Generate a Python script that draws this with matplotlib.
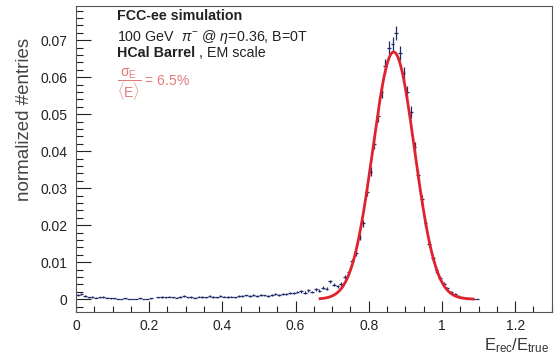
import numpy as np
from matplotlib import pyplot as plt
from matplotlib.ticker import MultipleLocator

# histogram, bins of 0.01 from 0 to 1.1
bin_centers = np.arange(0.005, 1.1, 0.01)
entries = [
    0.0012, 0.0015, 0.0008, 0.0005, 0.0006, 0.0004, 0.0005, 0.0006, 0.0004, 0.0003,
    0.0002, 0.0001, 0.0001, 0.0003, 0.0001, 0.0001, 0.0001, 0.0003, 0.0001, 0.0001,
    0.0002, np.nan, 0.0005, 0.0006, 0.0005, 0.0007, 0.0005, 0.0004, 0.0006, 0.0008,
    0.0005, 0.0006, 0.0004, 0.0007, 0.0006, 0.0005, 0.0008, 0.0006, 0.0005, 0.0009,
    0.0007, 0.0006, 0.0007, 0.0005, 0.0008, 0.0009, 0.0010, 0.0008, 0.0011, 0.0009,
    0.0012, 0.0010, 0.0008, 0.0011, 0.0013, 0.0012, 0.0015, 0.0014, 0.0017, 0.0016,
    0.0019, 0.0021, 0.0018, 0.0024, 0.0020, 0.0027, 0.0023, 0.0031, 0.0028, 0.0048,
    0.0039, 0.0035, 0.0041, 0.0060, 0.0074, 0.0102, 0.0125, 0.0168, 0.0205, 0.0290,
    0.0345, 0.0420, 0.0495, 0.0560, 0.0630, 0.0680, 0.0690, 0.0720, 0.0665, 0.0610,
    0.0560, 0.0505, 0.0410, 0.0335, 0.0270, 0.0205, 0.0150, 0.0110, 0.0078, 0.0058,
    0.0042, 0.0030, 0.0019, 0.0013, 0.0008, 0.0005, 0.0003, 0.0002, 0.0001, 0.0001,
]
entries = np.array(entries)
bin_width = 0.01

# gaussian fit parameters
fit_amp = 0.0668
fit_mean = 0.868
fit_sigma = 0.057
fit_range = (0.667, 1.085)

plt.rcParams['font.family'] = ['Liberation Sans', 'DejaVu Sans']
plt.rcParams['mathtext.fontset'] = 'custom'
plt.rcParams['mathtext.rm'] = 'Liberation Sans'
plt.rcParams['mathtext.it'] = 'Liberation Sans:italic'

fig = plt.figure(figsize=(5.54, 3.6), dpi=100)
ax = fig.add_axes([0.137, 0.133, 0.859, 0.850])

# errors from counting statistics
errors = np.sqrt(entries * 5.0e-5)
ax.errorbar(bin_centers, entries, yerr=errors, xerr=bin_width / 2, fmt='none',
            ecolor='#1f2b6b', elinewidth=0.9, capsize=0)

xf = np.linspace(fit_range[0], fit_range[1], 300)
yf = fit_amp * np.exp(-0.5 * ((xf - fit_mean) / fit_sigma) ** 2)
ax.plot(xf, yf, color='#e0222e', lw=2.0)

ax.set_xlim(0, 1.3)
ax.set_ylim(-0.0035, 0.0792)
ax.xaxis.set_minor_locator(MultipleLocator(0.05))
ax.yaxis.set_minor_locator(MultipleLocator(0.002))
ax.set_xticks([0, 0.2, 0.4, 0.6, 0.8, 1.0, 1.2])
ax.set_xticklabels(['0', '0.2', '0.4', '0.6', '0.8', '1', '1.2'])
ax.set_yticks([0, 0.01, 0.02, 0.03, 0.04, 0.05, 0.06, 0.07])
ax.set_yticklabels(['0', '0.01', '0.02', '0.03', '0.04', '0.05', '0.06', '0.07'])
ax.tick_params(which='both', direction='in', top=False, right=False,
               labelsize=10, colors='#222222', width=0.8)
ax.tick_params(axis='x', which='major', length=8, pad=5)
ax.tick_params(axis='x', which='minor', length=4)
ax.tick_params(axis='y', which='major', length=11, pad=6)
ax.tick_params(axis='y', which='minor', length=5)
for sp in ax.spines.values():
    sp.set_color('#555555')
    sp.set_linewidth(0.8)

fig.text(25 / 554, 1 - 38 / 360, 'normalized #entries', rotation=90, fontsize=13.5,
         color='#444444', ha='center', va='top')
fig.text(0.992, 0.015, r'E$_{\mathrm{rec}}$/E$_{\mathrm{true}}$', fontsize=12,
         color='#333333', ha='right', va='bottom')

tx = 0.086
ax.text(tx, 0.99, 'FCC-ee simulation', transform=ax.transAxes, fontsize=10.3,
        fontweight='bold', color='#222222', va='top')
ax.text(tx, 0.93, r'100 GeV  $\pi^{-}$ @ $\eta$=0.36, B=0T', transform=ax.transAxes,
        fontsize=10.3, color='#222222', va='top')
hcal = ax.text(tx, 0.87, 'HCal Barrel', transform=ax.transAxes, fontsize=10.3,
               fontweight='bold', color='#222222', va='top')
ax.annotate(' , EM scale', xy=(1, 0), xycoords=hcal, fontsize=10.3,
            color='#222222', va='bottom', ha='left')
ax.text(tx, 0.745, r'$\dfrac{\mathrm{\sigma_E}}{\mathrm{\langle E\rangle}}$ = 6.5%',
        transform=ax.transAxes, fontsize=10, color='#e07a7a', va='center')

fig.savefig('out.png', dpi=100)
